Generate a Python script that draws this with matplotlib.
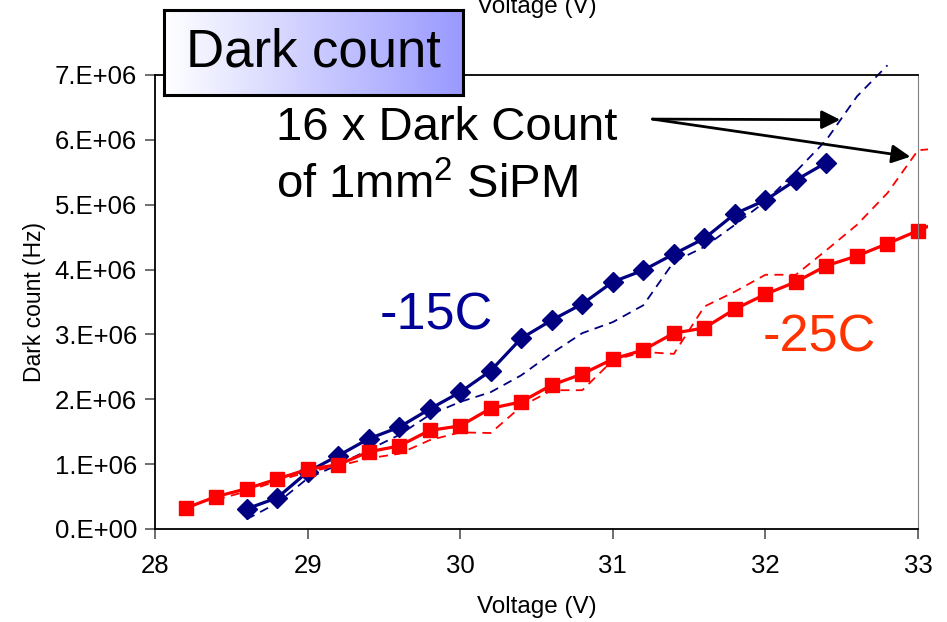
import numpy as np
import matplotlib.pyplot as plt
from matplotlib.patches import Rectangle

plt.rcParams['font.family'] = ['Liberation Sans', 'DejaVu Sans']
plt.rcParams['mathtext.default'] = 'regular'

# measured dark count, -15C (diamonds)
volt_15 = [28.6, 28.8, 29.0, 29.2, 29.4, 29.6, 29.8, 30.0, 30.2, 30.4,
           30.6, 30.8, 31.0, 31.2, 31.4, 31.6, 31.8, 32.0, 32.2, 32.4]
dc_15 = [0.31, 0.48, 0.88, 1.13, 1.39, 1.57, 1.85, 2.11, 2.44, 2.94,
         3.22, 3.47, 3.81, 3.99, 4.24, 4.48, 4.86, 5.07, 5.38, 5.65]

# measured dark count, -25C (squares)
volt_25 = [28.2, 28.4, 28.6, 28.8, 29.0, 29.2, 29.4, 29.6, 29.8, 30.0,
           30.2, 30.4, 30.6, 30.8, 31.0, 31.2, 31.4, 31.6, 31.8, 32.0,
           32.2, 32.4, 32.6, 32.8, 33.0, 33.2]
dc_25 = [0.32, 0.50, 0.62, 0.77, 0.92, 0.99, 1.19, 1.28, 1.52, 1.59,
         1.86, 1.96, 2.22, 2.39, 2.62, 2.76, 3.02, 3.10, 3.39, 3.62,
         3.81, 4.06, 4.21, 4.40, 4.60, 4.80]

# 16 x dark count of 1mm2 SiPM (dashed)
volt_ref15 = [28.6, 28.8, 29.0, 29.2, 29.4, 29.6, 29.8, 30.0, 30.2, 30.4, 30.6,
              30.8, 31.0, 31.2, 31.4, 31.6, 31.8, 32.0, 32.2, 32.4, 32.6, 32.8]
ref_15 = [0.15, 0.40, 0.78, 0.99, 1.22, 1.45, 1.76, 1.96, 2.11, 2.37, 2.71,
          3.02, 3.19, 3.45, 4.12, 4.35, 4.69, 5.05, 5.51, 6.00, 6.67, 7.15]
volt_ref25 = [28.4, 28.6, 28.8, 29.0, 29.2, 29.4, 29.6, 29.8, 30.0, 30.2, 30.4,
              30.6, 30.8, 31.0, 31.2, 31.4, 31.6, 31.8, 32.0, 32.2, 32.4, 32.6,
              32.8, 33.0, 33.2]
ref_25 = [0.45, 0.58, 0.74, 0.88, 0.97, 1.09, 1.16, 1.37, 1.49, 1.48, 1.89,
          2.14, 2.14, 2.60, 2.73, 2.70, 3.43, 3.66, 3.92, 3.92, 4.30, 4.69,
          5.18, 5.84, 5.88]

x_ticks = [28, 29, 30, 31, 32, 33]
y_ticks = [0, 1e6, 2e6, 3e6, 4e6, 5e6, 6e6, 7e6]
y_tick_labels = ['0.E+00', '1.E+06', '2.E+06', '3.E+06', '4.E+06', '5.E+06', '6.E+06', '7.E+06']

navy = '#000080'
red = '#ff0000'

fig = plt.figure(figsize=(9.47, 6.22), dpi=100)
ax = fig.add_axes([155 / 947, 93 / 622, 763 / 947, 454 / 622])

# plot area clip slightly wider than the axes (lines run past 33 V)
clip = Rectangle((0, 0), 1.0131, 1.03, transform=ax.transAxes, visible=False)
ax.add_patch(clip)

lines = []
lines += ax.plot(volt_ref15, np.array(ref_15) * 1e6, '--', color=navy, lw=1.3, dashes=(5, 3.5))
lines += ax.plot(volt_ref25, np.array(ref_25) * 1e6, '--', color=red, lw=1.3, dashes=(5, 3.5))
lines += ax.plot(volt_15, np.array(dc_15) * 1e6, '-', color=navy, lw=2.3, marker='D', ms=10)
lines += ax.plot(volt_25, np.array(dc_25) * 1e6, '-', color=red, lw=2.3, marker='s', ms=10.5)
for ln in lines:
    ln.set_clip_path(clip)

ax.set_xlim(28, 33)
ax.set_ylim(0, 7e6)
ax.set_xticks(x_ticks)
ax.set_xticklabels([str(v) for v in x_ticks])
ax.set_yticks(y_ticks)
ax.set_yticklabels(y_tick_labels)
ax.tick_params(axis='both', direction='out', length=7, width=1.2, color='#555555',
               labelsize=18.5, pad=6)
ax.tick_params(axis='x', pad=11)
ax.spines['right'].set_color('#808080')
for s in ['left', 'bottom', 'top']:
    ax.spines[s].set_color('black')
    ax.spines[s].set_linewidth(1.3)

ax.set_xlabel('Voltage (V)', fontsize=17.5, labelpad=13)
ax.set_ylabel('Dark count (Hz)', fontsize=16.5, labelpad=6)

# stray copy of the x label at the very top
fig.text(537 / 947, 1 - 13 / 622, 'Voltage (V)', fontsize=17.5, ha='center', va='baseline')

# series labels
ax.text(29.47, 3.07e6, '-15C', color='#000099', fontsize=37.5, ha='left', va='baseline')
ax.text(31.98, 2.73e6, '-25C', color='#ff3300', fontsize=37.5, ha='left', va='baseline')

# annotation for the dashed curves
ax.text(28.79, 6.0e6, '16 x Dark Count', fontsize=34, ha='left', va='baseline')
ax.text(28.79, 5.10e6, 'of 1mm$^{2}$ SiPM', fontsize=34, ha='left', va='baseline')
for tip in [(32.49, 6.31e6), (32.95, 5.74e6)]:
    ax.annotate('', xy=tip, xytext=(31.26, 6.32e6), annotation_clip=False,
                arrowprops=dict(arrowstyle='-|>', mutation_scale=28, lw=2,
                                color='black', shrinkA=0, shrinkB=0))

# "Dark count" title box with white-to-blue gradient
bax = fig.add_axes([164 / 947, 1 - 95 / 622, 299 / 947, 85 / 622])
grad = np.linspace(0, 1, 256).reshape(1, -1)
white = np.array([1.0, 1.0, 1.0])
blue = np.array([0x99, 0x99, 0xff]) / 255
img = white[None, None, :] * (1 - grad[..., None]) + blue[None, None, :] * grad[..., None]
bax.imshow(img, aspect='auto', extent=(0, 1, 0, 1))
bax.set_xticks([])
bax.set_yticks([])
for s in bax.spines.values():
    s.set_linewidth(2.2)
    s.set_color('black')
bax.text(0.5, 0.5, 'Dark count', fontsize=38, ha='center', va='center', transform=bax.transAxes)

fig.savefig('out.png', dpi=100)
